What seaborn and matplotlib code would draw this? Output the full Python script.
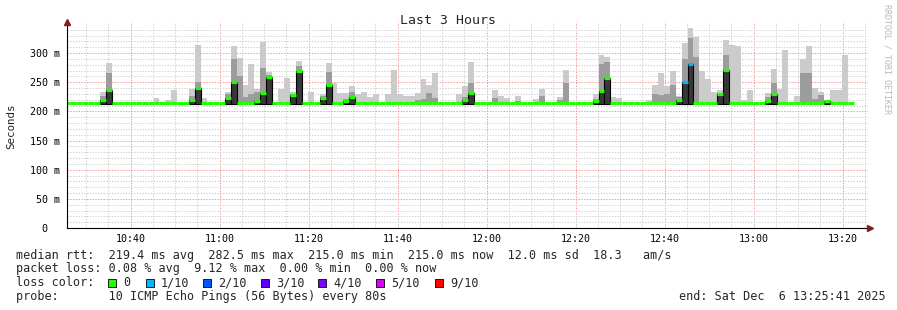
import numpy as np
import pandas as pd
import matplotlib
matplotlib.use("Agg")
import matplotlib.pyplot as plt
import matplotlib.transforms as mtransforms
from matplotlib.patches import Rectangle
import seaborn as sns

nan = float("nan")

# ---------------- data ----------------
start_clock = "10:25:41"          # left edge of the 3 hour window
step_seconds = 80                 # RRD step
first_step_offset_min = -0.55     # first step starts slightly before the window

median_ms = [
    215, 215, 215, 215, 215, 215, 219, 237, 215, 215,
    215, 215, 215, 215, 215, 215, 215, 215, 215, 215,
    215, 220, 240, 215, 215, 215, 215, 223, 251, 215,
    215, 215, 217, 232, 259, 215, 215, 215, 228, 270,
    215, 215, 215, 223, 246, 215, 215, 217, 225, 215,
    215, 215, 215, 215, 215, 215, 215, 215, 215, 215,
    215, 215, 215, 215, 215, 215, 215, 220, 232, 215,
    215, 215, 215, 215, 215, 215, 215, 215, 215, 215,
    215, 215, 215, 215, 215, 215, 215, 215, 215, 217,
    235, 258, 215, 215, 215, 215, 215, 215, 215, 215,
    215, 215, 215, 219, 250, 281, 215, 215, 215, 215,
    229, 271, 215, 215, 215, 215, 215, 215, 218, 230,
    215, 215, 215, 215, 215, 215, 215, 215, 217, 215,
    215, 215, 215, nan, nan,
]

smoke_top_ms = [
    215, 215, 215, 215, 215, 215, 234, 283, 215, 215,
    215, 215, 215, 215, 215, 223, 215, 219, 237, 215,
    215, 239, 314, 223, 215, 215, 215, 234, 312, 292,
    245, 281, 239, 319, 268, 215, 239, 258, 234, 286,
    215, 233, 215, 229, 283, 248, 231, 231, 243, 229,
    233, 224, 230, 215, 229, 271, 229, 227, 227, 231,
    256, 245, 266, 215, 215, 215, 230, 243, 285, 215,
    215, 215, 237, 227, 223, 215, 226, 215, 215, 221,
    239, 215, 215, 224, 271, 215, 215, 215, 215, 230,
    296, 293, 225, 223, 215, 215, 215, 215, 219, 246,
    266, 243, 269, 227, 317, 343, 327, 269, 256, 234,
    236, 322, 314, 312, 220, 237, 215, 215, 231, 273,
    239, 305, 215, 226, 289, 312, 240, 233, 218, 236,
    236, 297, 215, nan, nan,
]

smoke_mid_ms = [
    215, 215, 215, 215, 215, 215, 226, 266, 215, 215,
    215, 215, 215, 215, 215, 215, 215, 215, 215, 215,
    215, 226, 250, 215, 215, 215, 215, 229, 290, 260,
    225, 230, 234, 274, 263, 215, 215, 215, 230, 277,
    215, 215, 215, 226, 267, 215, 215, 222, 234, 215,
    215, 215, 215, 215, 215, 215, 215, 215, 215, 220,
    222, 231, 223, 215, 215, 215, 215, 225, 249, 215,
    215, 215, 223, 215, 215, 215, 218, 215, 215, 215,
    226, 215, 215, 220, 249, 215, 215, 215, 215, 222,
    282, 285, 215, 215, 215, 215, 215, 215, 215, 229,
    228, 230, 245, 224, 290, 326, 293, 215, 215, 215,
    232, 296, 215, 215, 215, 215, 215, 215, 225, 249,
    215, 215, 215, 215, 266, 266, 222, 228, 215, 215,
    215, 215, 215, nan, nan,
]

loss_tenths = [0] * 135
loss_tenths[104] = 1
loss_tenths[105] = 1

x_tick_labels = ["10:40", "11:00", "11:20", "11:40", "12:00",
                 "12:20", "12:40", "13:00", "13:20"]
y_ticks = [0, 50, 100, 150, 200, 250, 300]
y_tick_labels = ["0", "50 m", "100 m", "150 m", "200 m", "250 m", "300 m"]

title_text = "Last 3 Hours"
y_label = "Seconds"
line_rtt = ("median rtt:  219.4 ms avg  282.5 ms max  215.0 ms min  "
            "215.0 ms now  12.0 ms sd  18.3   am/s")
line_loss = "packet loss: 0.08 % avg  9.12 % max  0.00 % min  0.00 % now"
line_probe = "probe:       10 ICMP Echo Pings (56 Bytes) every 80s"
line_end = "end: Sat Dec  6 13:25:41 2025"
legend_names = ["0", "1/10", "2/10", "3/10", "4/10", "5/10", "9/10"]
legend_colors = ["#20ff00", "#00b8ff", "#0059ff", "#5e00ff",
                 "#7e00ff", "#dd00ff", "#ff0000"]
watermark = "RRDTOOL / TOBI OETIKER"

# ---------------- style ----------------
sns.set_style("white")
plt.rcParams["font.family"] = ["DejaVu Sans Mono", "DejaVu Sans"]
plt.rcParams["lines.scale_dashes"] = False

W, H = 897, 310
fig = plt.figure(figsize=(W / 100, H / 100), dpi=100)
fig.patch.set_facecolor("white")
ax = fig.add_axes([67 / W, 82 / H, 801 / W, 206 / H])
ax.set_facecolor("white")


def clock_min(s):
    parts = [float(p) for p in s.split(":")]
    return parts[0] * 60 + parts[1] + (parts[2] / 60 if len(parts) > 2 else 0)


t_start = clock_min(start_clock)
span = 180.0
step_min = step_seconds / 60
n = len(median_ms)
t0 = first_step_offset_min + np.arange(n) * step_min
med = np.array(median_ms, dtype=float)
top = np.array(smoke_top_ms, dtype=float)
mid = np.array(smoke_mid_ms, dtype=float)

# smoke
smoke_base = 214.0
m = np.nan_to_num(top) > 215.5
ax.bar(t0[m], top[m] - smoke_base, bottom=smoke_base, width=step_min,
       align="edge", color="#cbcbcb", linewidth=0, zorder=2)
m = np.nan_to_num(mid) > 215.5
ax.bar(t0[m], mid[m] - smoke_base, bottom=smoke_base, width=step_min,
       align="edge", color="#9c9c9c", linewidth=0, zorder=3)
box_base = 212.5
m = np.nan_to_num(med) > 216
ax.bar(t0[m], med[m] - box_base, bottom=box_base, width=step_min,
       align="edge", color="#383838", edgecolor="#000000", linewidth=0.8,
       zorder=4)

# median, coloured by loss
color_map = dict(zip(legend_names, legend_colors))
rows = []
for j in range(n):
    if np.isnan(med[j]):
        continue
    lk = "0" if loss_tenths[j] == 0 else f"{loss_tenths[j]}/10"
    rows.append({"t": t0[j], "med": med[j], "loss": lk, "step": j})
    rows.append({"t": t0[j] + step_min, "med": med[j], "loss": lk, "step": j})
df = pd.DataFrame(rows)
sns.lineplot(data=df, x="t", y="med", units="step", estimator=None,
             hue="loss", palette={k: color_map[k] for k in df["loss"].unique()},
             legend=False, linewidth=2.3, sort=False, ax=ax,
             solid_capstyle="butt", zorder=5)

# axes, ticks, grid
ax.set_xlim(0, span)
ax.set_ylim(0, 206 / 0.5833)
major_x = [clock_min(l) - t_start for l in x_tick_labels]
first5 = (np.ceil(t_start / 5) * 5) - t_start
minor_x = [v for v in np.arange(first5, span, 5)
           if min(abs(v - mx) for mx in major_x) > 0.5]
ax.set_xticks(major_x, x_tick_labels)
ax.set_xticks(minor_x, minor=True)
ax.set_yticks(y_ticks, y_tick_labels)
ax.set_yticks([v for v in range(10, 351, 10) if v % 50], minor=True)
ax.set_axisbelow(True)
ax.grid(which="minor", color="#d2d2d2", linestyle=(0, (1, 1)), linewidth=0.72)
ax.grid(which="major", color="#f29a9a", linestyle=(0, (1, 1)), linewidth=0.72)
ax.tick_params(which="both", length=0, labelsize=7.2, colors="black")
ax.tick_params(axis="y", pad=5)
ax.tick_params(axis="x", pad=4)
# '0' label sits under the digits of the other labels
zero_lbl = ax.yaxis.get_major_ticks()[0].label1
zero_lbl.set_transform(zero_lbl.get_transform() +
                       mtransforms.ScaledTranslation(-13 / 100, 0,
                                                     fig.dpi_scale_trans))
for s in ("top", "right"):
    ax.spines[s].set_visible(False)
for s in ("left", "bottom"):
    ax.spines[s].set_color("black")
    ax.spines[s].set_linewidth(0.8)
    ax.spines[s].set_zorder(6)
ax.plot([0], [1.0], marker="^", color="#8b1a1a", markersize=4.5,
        transform=ax.transAxes, clip_on=False, zorder=7)
ax.plot([1.003], [0], marker=">", color="#8b1a1a", markersize=4.5,
        transform=ax.transAxes, clip_on=False, zorder=7)

ax.set_xlabel("")
ax.set_ylabel(y_label, fontsize=7.8)
ax.yaxis.set_label_coords((16 - 67) / 801, (228 - 126) / 206)

# title & texts
fig.text(448 / W, 1 - 20 / H, title_text, ha="center", va="center",
         fontsize=9.5)
fs = 8.5
fig.text(16 / W, 1 - 255 / H, line_rtt, ha="left", va="center", fontsize=fs)
fig.text(16 / W, 1 - 268.5 / H, line_loss, ha="left", va="center", fontsize=fs)
fig.text(16 / W, 1 - 282.5 / H, "loss color:", ha="left", va="center",
         fontsize=fs)
box_x = [108, 146, 203, 261, 318, 376, 435]
text_x = [123, 161, 218, 276, 333, 391, 450]
for name, c, bx, tx in zip(legend_names, legend_colors, box_x, text_x):
    fig.add_artist(Rectangle((bx / W, 1 - 286.5 / H), 7.5 / W, 7.5 / H,
                             transform=fig.transFigure, facecolor=c,
                             edgecolor="black", linewidth=0.6))
    fig.text(tx / W, 1 - 282.5 / H, name, ha="left", va="center", fontsize=fs)
fig.text(16 / W, 1 - 296.5 / H, line_probe, ha="left", va="center",
         fontsize=fs)
fig.text(886 / W, 1 - 296.5 / H, line_end, ha="right", va="center",
         fontsize=fs)
fig.text(887 / W, 1 - 59 / H, watermark, ha="center", va="center",
         rotation=270, fontsize=6, color="#b8b8b8")

fig.savefig("out.png", dpi=100, facecolor="white")
